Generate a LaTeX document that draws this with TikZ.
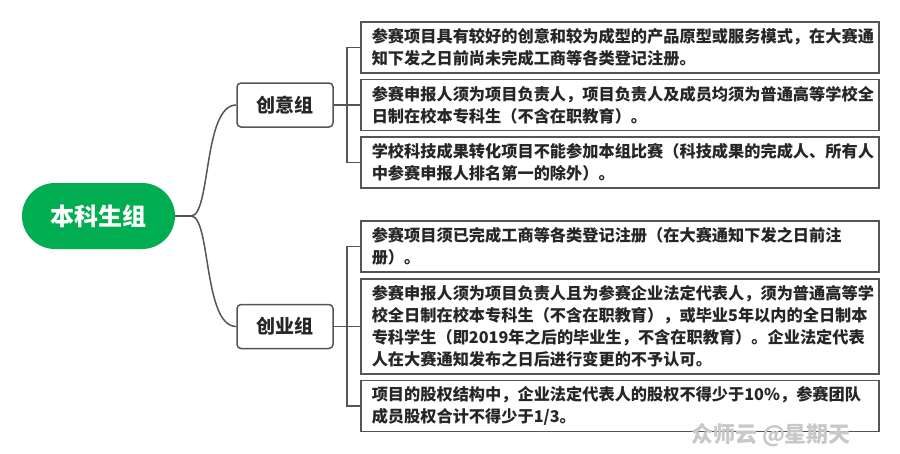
\documentclass[tikz,border=0pt]{standalone}
\usepackage{fontspec}
\setmainfont{Noto Sans CJK SC}
\definecolor{rootgreen}{RGB}{0,173,80}
\definecolor{linegray}{RGB}{85,85,85}
\definecolor{txt}{RGB}{38,38,38}
\definecolor{wmgray}{RGB}{200,200,200}
\begin{document}
\begin{tikzpicture}[x=1pt,y=-1pt,
  rootnode/.style={fill=rootgreen,draw=none,text=white,font=\fontsize{24}{28}\selectfont\bfseries,
    minimum width=153pt,minimum height=66pt,rounded corners=33pt,inner sep=0pt},
  groupnode/.style={draw=linegray,line width=1.5pt,rounded corners=4pt,fill=white,text=txt,
    font=\fontsize{19}{22}\selectfont\bfseries,minimum width=96pt,minimum height=44pt,inner sep=0pt},
  itembox/.style={draw=linegray,line width=1.5pt,fill=white,text=txt,anchor=west,
    font=\fontsize{16.2}{22}\selectfont\bfseries,align=left,text width=496pt,
    minimum width=518pt,inner xsep=11pt,inner ysep=0pt},
  twoline/.style={minimum height=51pt},
  fourline/.style={minimum height=95pt},
  conn/.style={draw=linegray,line width=1.5pt},
  watermark/.style={text=wmgray,font=\fontsize{22}{24}\selectfont\bfseries,inner sep=0pt}
]
\useasboundingbox (0,0) rectangle (900,453);
\fill[white] (0,0) rectangle (900,453);

% nodes
\node[rootnode] (root) at (98.5,216) {本科生组};
\node[groupnode] (cy) at (285,105) {创意组};
\node[groupnode] (ce) at (285,326.5) {创业组};

\node[itembox,twoline] (b1) at (360,47.5) {参赛项目具有较好的创意和较为成型的产品原型或服务模式，在大赛通\\知下发之日前尚未完成工商等各类登记注册。};
\node[itembox,twoline] (b2) at (360,105) {参赛申报人须为项目负责人，项目负责人及成员均须为普通高等学校全\\日制在校本专科生（不含在职教育）。};
\node[itembox,twoline] (b3) at (360,162.5) {学校科技成果转化项目不能参加本组比赛（科技成果的完成人、所有人\\中参赛申报人排名第一的除外）。};

\node[itembox,twoline] (b4) at (360,246.5) {参赛项目须已完成工商等各类登记注册（在大赛通知下发之日前注\\册）。};
\node[itembox,fourline] (b5) at (360,326.5) {参赛申报人须为项目负责人且为参赛企业法定代表人，须为普通高等学\\校全日制在校本专科生（不含在职教育），或毕业5年以内的全日制本\\专科学生（即2019年之后的毕业生，不含在职教育）。企业法定代表\\人在大赛通知发布之日后进行变更的不予认可。};
\node[itembox,twoline] (b6) at (360,406) {项目的股权结构中，企业法定代表人的股权不得少于10\%，参赛团队\\成员股权合计不得少于1/3。};

% junction coordinates
\coordinate (rj) at (191,216);
\coordinate (bus1) at (347,105);
\coordinate (bus2) at (347,326.5);

% connectors root -> groups
\draw[conn] (root.east) -- (rj);
\draw[conn] (rj) .. controls (211,216) and (203,105) .. (cy.west);
\draw[conn] (rj) .. controls (211,216) and (203,326.5) .. (ce.west);

% group 1 bus
\draw[conn] (cy.east) -- (b2.west);
\draw[conn] (b1.west) -- (b1.west -| bus1) -- (b3.west -| bus1) -- (b3.west);

% group 2 bus
\draw[conn] (ce.east) -- (b5.west);
\draw[conn] (b4.west) -- (b4.west -| bus2) -- (b6.west -| bus2) -- (b6.west);

% watermark
\node[watermark] (wm) at (771,435) {众师云 @星期天};
\end{tikzpicture}
\end{document}
